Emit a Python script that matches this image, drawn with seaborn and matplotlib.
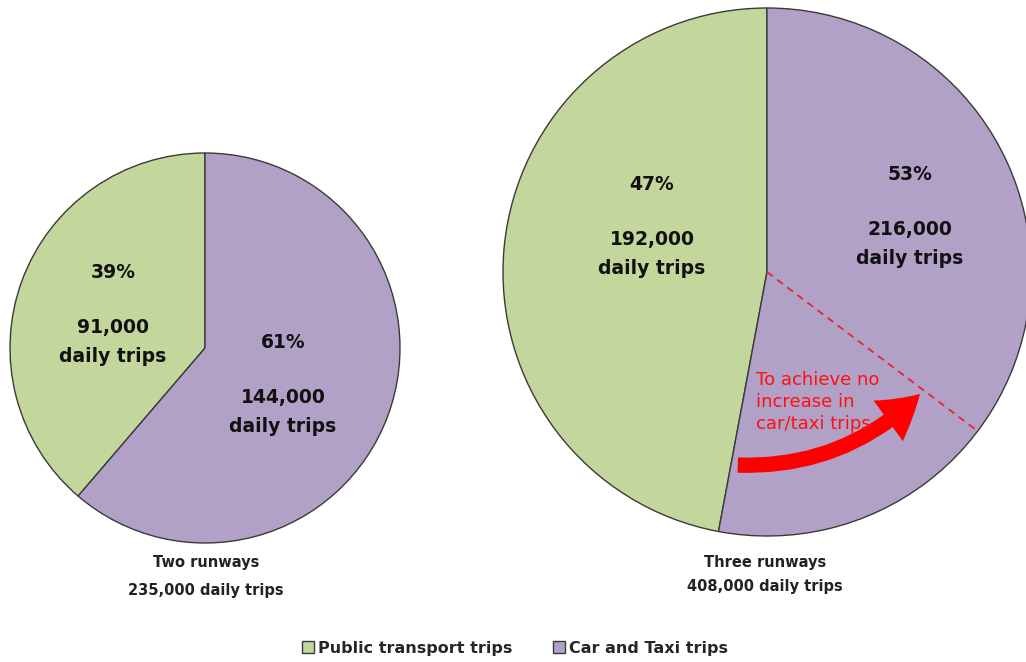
import matplotlib
matplotlib.use("Agg")
import matplotlib.pyplot as plt
import seaborn as sns
import numpy as np
from matplotlib.patches import FancyArrowPatch

# data
categories = ["Public transport trips", "Car and Taxi trips"]
two_runways = [91000, 144000]
three_runways = [192000, 216000]
scenario_names = ["Two runways", "Three runways"]
note_text = "To achieve no\nincrease in\ncar/taxi trips"

sns.set_style("white")
plt.rcParams['font.family'] = ['DejaVu Sans']
colors = sns.color_palette(["#c3d69b", "#b2a1c7"])

W, H = 1026, 662
fig = plt.figure(figsize=(W / 100, H / 100), dpi=100)
ax = fig.add_axes([0, 0, 1, 1])


def py(y):
    # convert top-based pixel y to axis y
    return H - y


wedge_kw = dict(edgecolor="#3a3a3a", linewidth=1.0)

# left pie
w1, _ = ax.pie(two_runways, colors=colors, startangle=90, counterclock=True,
               center=(205, py(348)), radius=195, wedgeprops=wedge_kw, frame=True)
# right pie
w2, _ = ax.pie(three_runways, colors=colors, startangle=90, counterclock=True,
               center=(767, py(272)), radius=264, wedgeprops=wedge_kw, frame=True)

ax.set_xlim(0, W)
ax.set_ylim(0, H)
ax.set_aspect("equal")
ax.axis("off")


def slice_label(x, y, value, total):
    pct = round(100 * value / total)
    ax.text(x, py(y), f"{pct}%", ha="center", va="center",
            fontsize=13.5, fontweight="bold", color="#111111")
    ax.text(x, py(y + 55), f"{value:,}", ha="center", va="center",
            fontsize=13.5, fontweight="bold", color="#111111")
    ax.text(x, py(y + 84), "daily trips", ha="center", va="center",
            fontsize=13.5, fontweight="bold", color="#111111")


t1 = sum(two_runways)
t2 = sum(three_runways)
slice_label(113, 273, two_runways[0], t1)
slice_label(283, 342, two_runways[1], t1)
slice_label(652, 185, three_runways[0], t2)
slice_label(910, 174, three_runways[1], t2)

# captions
cap_kw = dict(ha="center", va="center", fontsize=10.5, fontweight="bold", color="#222222")
ax.text(206, py(563), scenario_names[0], **cap_kw)
ax.text(206, py(590), f"{t1:,} daily trips", **cap_kw)
ax.text(765, py(563), scenario_names[1], **cap_kw)
ax.text(765, py(586), f"{t2:,} daily trips", **cap_kw)

# dashed line: share of car trips equal to the two-runway level
cx, cy, r = 767, py(272), 264
ang = np.deg2rad(90 - 360 * two_runways[1] / t2)
ax.plot([cx, cx + r * np.cos(ang)], [cy, cy + r * np.sin(ang)],
        color="#e8242f", lw=1.3, ls=(0, (4, 3)))

# curved arrow + note
arrow = FancyArrowPatch((735, py(465)), (922, py(392)),
                        connectionstyle="arc3,rad=0.22",
                        arrowstyle="simple,head_width=36,head_length=30,tail_width=11",
                        color="#ff0000", mutation_scale=1, lw=0)
ax.add_patch(arrow)
ax.text(756, py(402), note_text, ha="left", va="center", fontsize=13,
        color="#ff1010", linespacing=1.3)

# legend
leg = ax.legend(w1, categories, loc="center", bbox_to_anchor=(0.502, 14 / H),
                ncol=2, frameon=False, handlelength=0.75, handleheight=0.75,
                handletextpad=0.3, columnspacing=2.5,
                prop={"weight": "bold", "size": 11.5})

fig.savefig("out.png", dpi=100)
